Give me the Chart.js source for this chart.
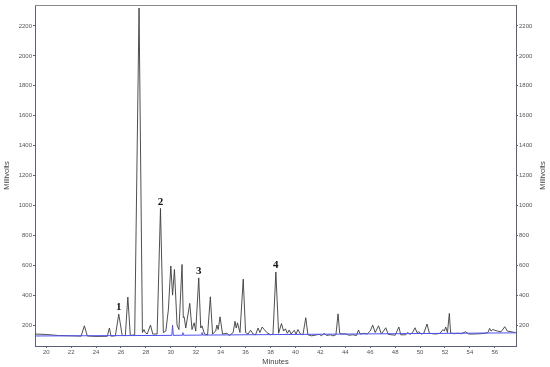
<!DOCTYPE html>
<html>
<head>
<meta charset="utf-8">
<script src="https://cdn.jsdelivr.net/npm/chart.js@4"></script>
<style>
  html, body { margin: 0; padding: 0; background: #fff; }
  #wrap { width: 550px; height: 367px; }
</style>
</head>
<body>
<div id="wrap"><canvas id="chrom" width="550" height="367"></canvas></div>
<script>
// chromatogram trace (minutes, millivolts)
const traceTimes = [19.1, 20, 21, 22, 22.8, 23.06, 23.3, 24, 24.9, 25.07, 25.2, 25.55, 25.82, 26.1, 26.35, 26.55, 26.75,
    27.1, 27.45, 27.72, 27.85, 27.95, 28.1, 28.37, 28.55, 28.9, 29.17, 29.4, 29.6, 29.8, 30.0, 30.14, 30.29, 30.5, 30.65,
    30.9, 31.0, 31.07, 31.2, 31.52, 31.7, 31.87, 32.0, 32.24, 32.4, 32.5, 32.7, 32.95, 33.17, 33.35, 33.6, 33.7, 33.8,
    33.95, 34.15, 34.5, 34.7, 35.0, 35.15, 35.25, 35.35, 35.55, 35.81, 36.0, 36.2, 36.4, 36.6, 36.8, 37.0, 37.15, 37.33,
    37.5, 37.7, 38.0, 38.2, 38.43, 38.65, 38.88, 39.05, 39.2, 39.35, 39.5, 39.65, 39.9, 40.05, 40.2, 40.4, 40.6, 40.83,
    41.0, 41.3, 41.9, 42.1, 42.3, 42.5, 42.8, 43.0, 43.25, 43.42, 43.55, 43.8, 44.0, 44.3, 44.6, 44.9, 45.06, 45.2, 45.5,
    45.75, 46.0, 46.2, 46.4, 46.67, 46.9, 47.25, 47.45, 48.0, 48.3, 48.45, 48.85, 49.0, 49.2, 49.4, 49.6, 49.75, 49.9,
    50.1, 50.3, 50.56, 50.75, 51.0, 51.3, 51.6, 51.84, 51.95, 52.06, 52.2, 52.35, 52.45, 52.7, 53.0, 53.3, 53.66, 53.9,
    54.3, 54.8, 55.2, 55.45, 55.58, 55.7, 55.84, 56.0, 56.2, 56.5, 56.8, 57.0, 57.3, 57.65];
const traceMv = [140, 137, 130, 128, 126, 195, 127, 124, 125, 180, 126, 128, 273, 130, 130, 387, 130,
    135, 2320, 150, 170, 150, 140, 200, 140, 140, 980, 150, 160, 300, 595, 400, 571, 200, 170,
    605, 250, 255, 180, 345, 170, 215, 160, 515, 180, 195, 140, 135, 389, 140, 160, 200, 170,
    255, 140, 145, 130, 150, 225, 180, 215, 150, 507, 150, 140, 165, 140, 135, 180, 150, 187,
    170, 150, 135, 140, 555, 145, 210, 160, 175, 145, 167, 140, 165, 140, 170, 140, 135, 249,
    135, 128, 138, 128, 145, 130, 135, 128, 135, 275, 145, 140, 142, 132, 135, 130, 167, 140, 145,
    140, 160, 200, 150, 195, 140, 182, 138, 132, 187, 135, 135, 150, 138, 150, 182, 150, 155,
    140, 145, 207, 145, 142, 140, 145, 170, 160, 187, 150, 278, 148, 142, 145, 142, 155, 140,
    140, 142, 145, 150, 178, 160, 170, 165, 160, 155, 189, 160, 155, 150];

// blue baseline with its integration marks
const baseTimes = [19.1, 30.08, 30.14, 30.2, 30.9, 30.96, 31.02, 32.45, 32.5, 32.55, 57.7];
const baseMv = [127, 131, 200, 131, 132, 150, 132, 133, 150, 133, 148];

const xTickValues = [20, 22, 24, 26, 28, 30, 32, 34, 36, 38, 40, 42, 44, 46, 48, 50, 52, 54, 56];
const yTickValues = [200, 400, 600, 800, 1000, 1200, 1400, 1600, 1800, 2000, 2200];

const peakNames = ["1", "2", "3", "4"];
const peakTimes = [25.82, 29.17, 32.24, 38.43];
const peakMv = [273, 980, 515, 555];

const tickFont = { family: "Liberation Sans", size: 6 };
const titleFont = { family: "Liberation Sans", size: 7.5 };
const axisColor = "#5a6078";

function toPoints(xs, ys) {
    return xs.map(function (x, i) { return { x: x, y: ys[i] }; });
}

const frameAndLabels = {
    id: "frameAndLabels",
    afterDraw: function (chart) {
        const ctx = chart.ctx;
        const a = chart.chartArea;
        ctx.save();
        ctx.strokeStyle = "#8a8a8a";
        ctx.lineWidth = 1;
        ctx.beginPath();
        ctx.moveTo(a.left, a.top + 0.5);
        ctx.lineTo(a.right, a.top + 0.5);
        ctx.stroke();

        // right hand title reads upward like the left one
        ctx.fillStyle = "#444";
        ctx.font = "7.5px 'Liberation Sans'";
        ctx.textAlign = "center";
        ctx.textBaseline = "middle";
        ctx.translate(543, (a.top + a.bottom) / 2);
        ctx.rotate(-Math.PI / 2);
        ctx.fillText("Millivolts", 0, 0);
        ctx.setTransform(1, 0, 0, 1, 0, 0);

        ctx.fillStyle = "#111";
        ctx.font = "bold 11px 'Liberation Serif'";
        ctx.textBaseline = "bottom";
        const xs = chart.scales.x, ys = chart.scales.y;
        for (let i = 0; i < peakNames.length; i++) {
            ctx.fillText(peakNames[i], xs.getPixelForValue(peakTimes[i]), ys.getPixelForValue(peakMv[i]) - 1);
        }
        ctx.restore();
    }
};

function yAxis(pos, w, showTitle) {
    return {
        type: "linear",
        position: pos,
        min: 60,
        max: 2340,
        afterBuildTicks: function (s) { s.ticks = yTickValues.map(function (v) { return { value: v }; }); },
        afterFit: function (s) { s.width = w; },
        ticks: { font: tickFont, color: "#555", padding: 1, callback: function (v) { return String(v); } },
        grid: { drawOnChartArea: false, drawTicks: true, tickLength: 2, color: axisColor },
        border: { color: axisColor, dash: [1, 1], width: 1 },
        title: { display: showTitle, text: "Millivolts", font: titleFont, color: "#444", padding: { top: 2, bottom: 0 } }
    };
}

new Chart(document.getElementById("chrom"), {
    type: "line",
    data: {
        datasets: [{
            label: "baseline",
            data: toPoints(baseTimes, baseMv),
            borderColor: "rgb(80, 80, 240)",
            borderWidth: 1,
            pointRadius: 0,
            tension: 0
        }, {
            label: "signal",
            data: toPoints(traceTimes, traceMv),
            borderColor: "#3c3c3c",
            borderWidth: 0.9,
            pointRadius: 0,
            tension: 0
        }]
    },
    options: {
        responsive: false,
        animation: false,
        layout: { padding: { top: 5, left: 0, right: 0, bottom: 0 } },
        plugins: { legend: { display: false }, tooltip: { enabled: false } },
        scales: {
            x: {
                type: "linear",
                min: 19.1,
                max: 57.7,
                afterBuildTicks: function (s) { s.ticks = xTickValues.map(function (v) { return { value: v }; }); },
                afterFit: function (s) { s.height = 21; },
                ticks: { font: tickFont, color: "#555", padding: 1, maxRotation: 0, callback: function (v) { return String(v); } },
                grid: { drawOnChartArea: false, drawTicks: true, tickLength: 2, color: axisColor },
                border: { color: axisColor, dash: [1, 1], width: 1 },
                title: { display: true, text: "Minutes", font: titleFont, color: "#444", padding: { top: 0, bottom: 1 } }
            },
            y: yAxis("left", 35, true),
            y2: yAxis("right", 34, false)
        }
    },
    plugins: [frameAndLabels]
});
</script>
</body>
</html>
